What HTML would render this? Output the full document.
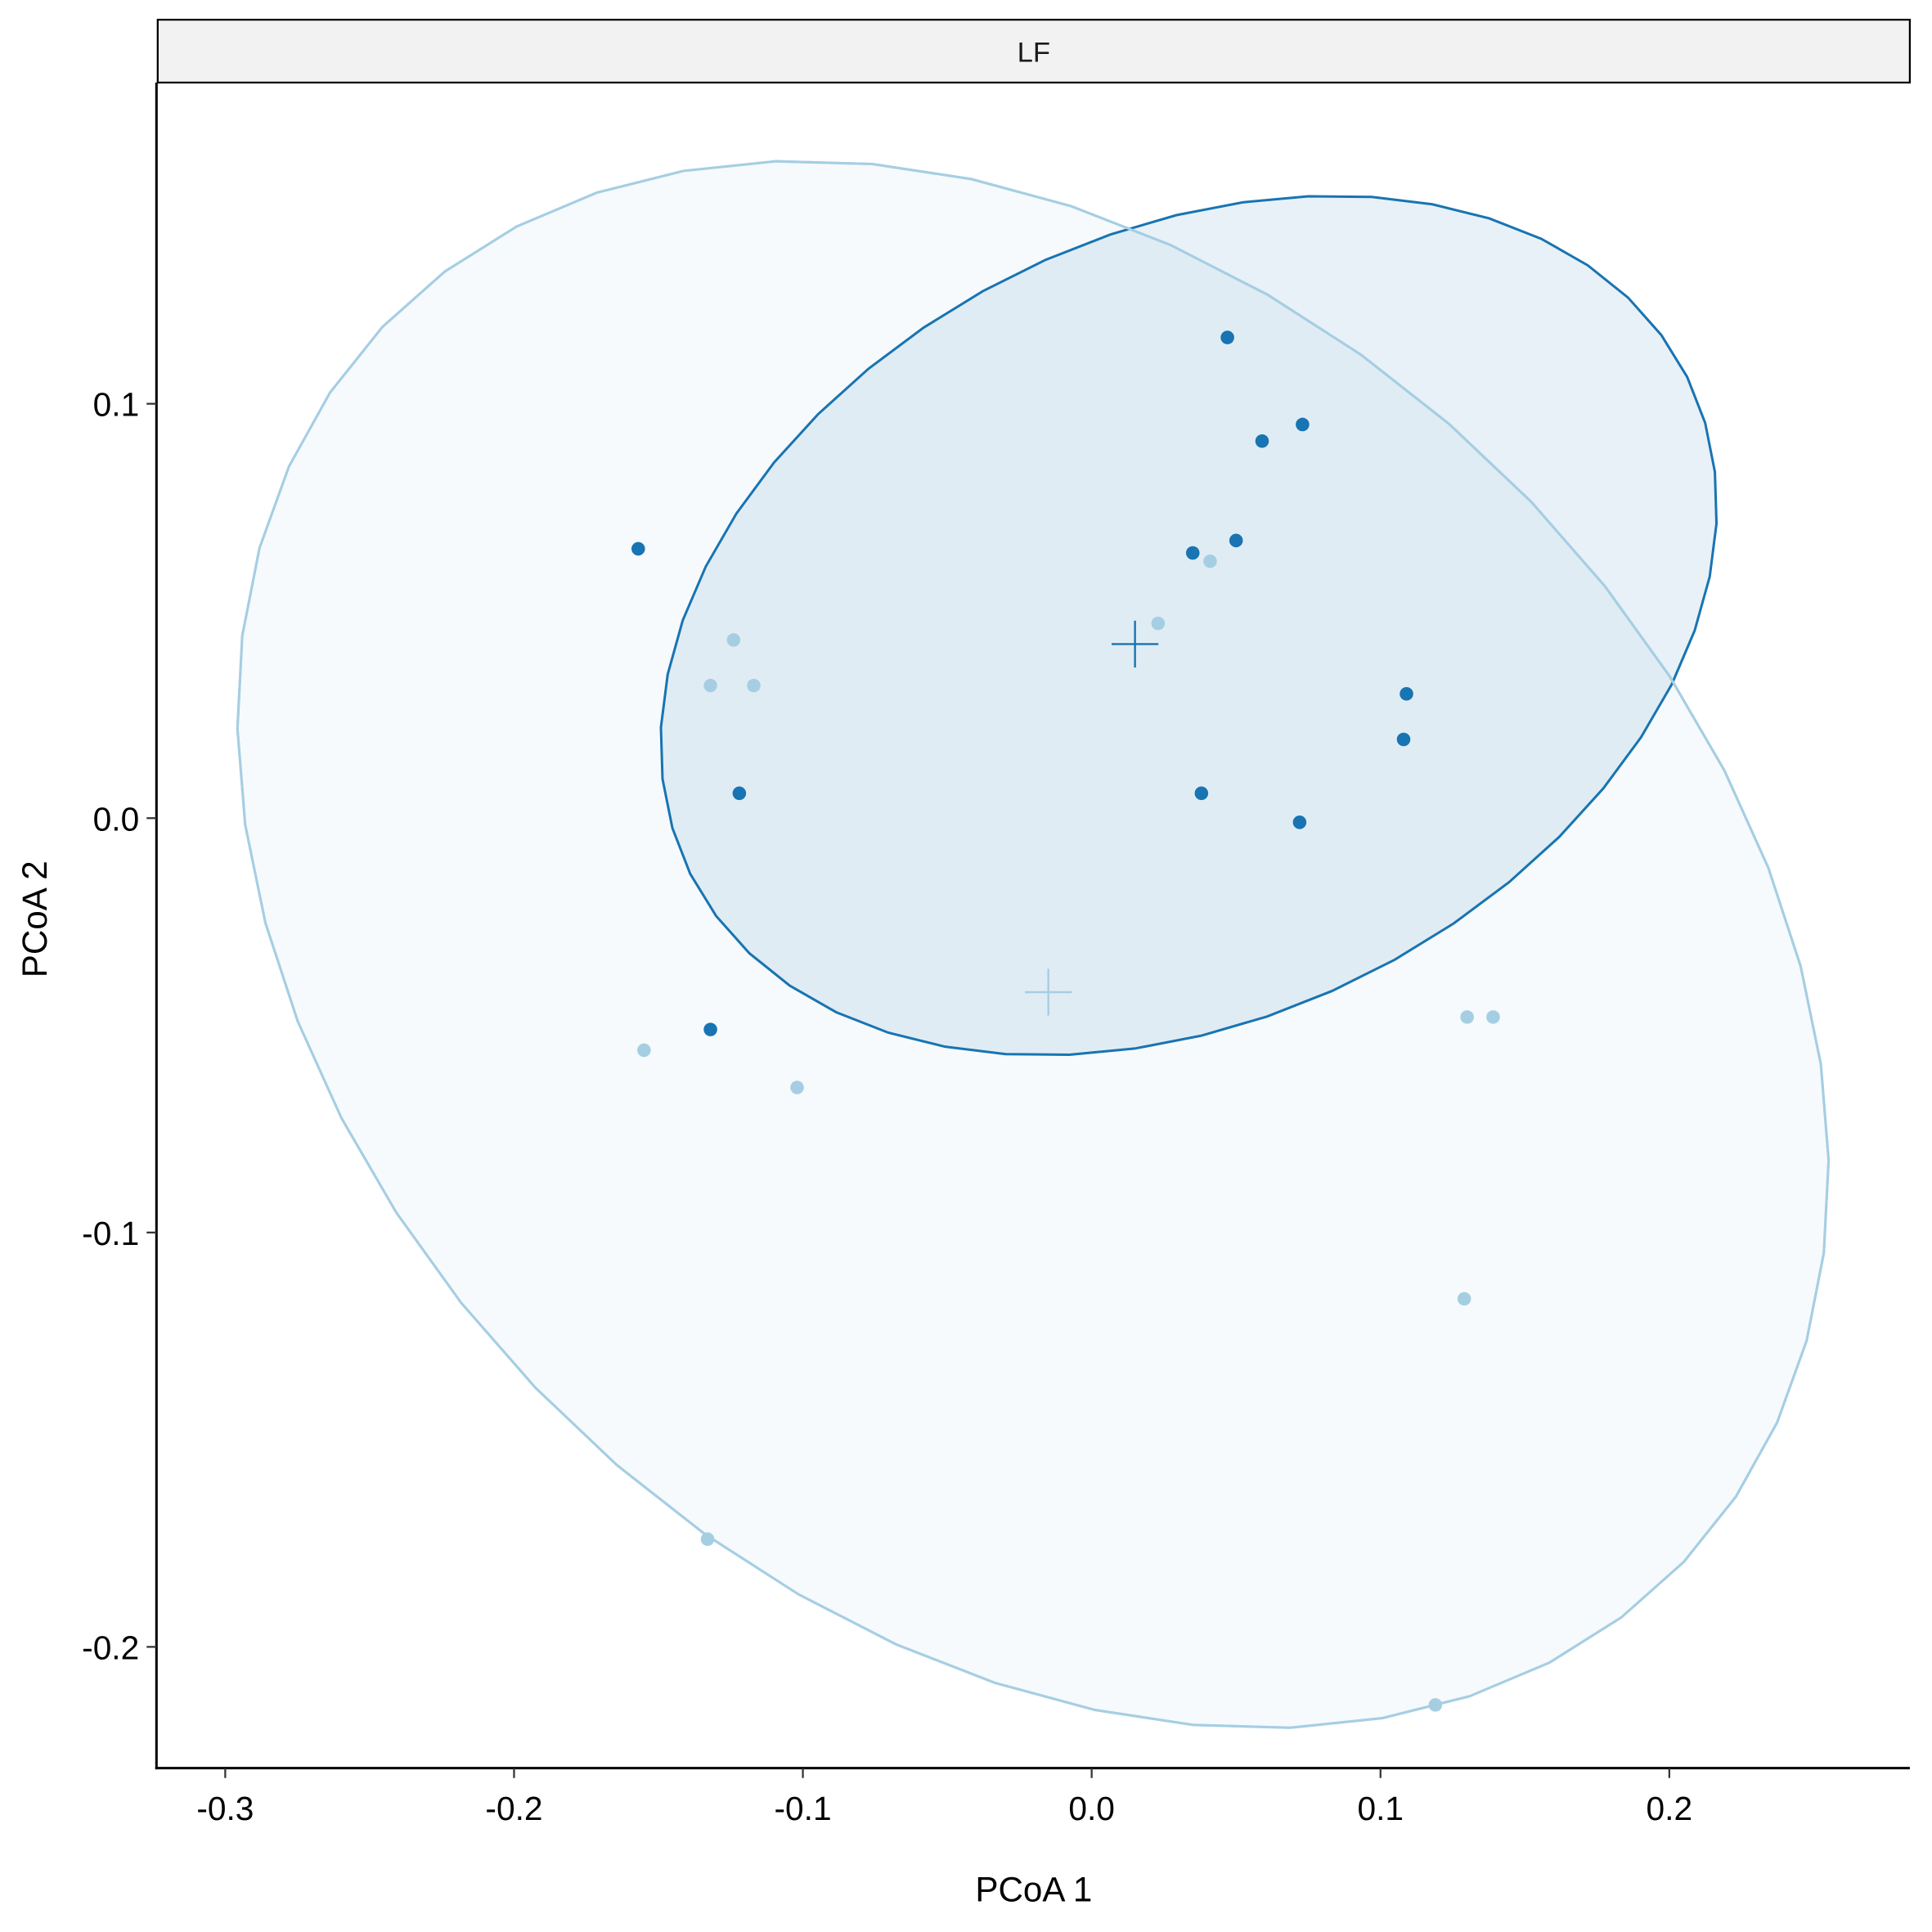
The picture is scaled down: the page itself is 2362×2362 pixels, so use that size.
<!DOCTYPE html>
<html><head><meta charset="utf-8"><style>
html,body{margin:0;padding:0;background:#fff;}
svg{display:block;font-family:"Liberation Sans",Arial,sans-serif;}
</style></head><body>
<svg id="chart" width="2362" height="2362" viewBox="0 0 1568 1568" xmlns="http://www.w3.org/2000/svg">
<rect x="0" y="0" width="1568" height="1568" fill="#fff"/>
<g>
<rect x="128" y="16" width="1422" height="51" fill="#f2f2f2" stroke="#000" stroke-width="1.5"/>
<text x="839" y="50" font-size="23" text-anchor="middle" fill="#1a1a1a">LF</text>
</g>
<g id="plot"></g>
<g id="axes"></g>
<text x="839" y="1543" font-size="28" text-anchor="middle">PCoA 1</text>
<text transform="translate(38,746) rotate(-90)" font-size="28" text-anchor="middle">PCoA 2</text>
</svg>
<script>
const darkX=[0.047,0.073,0.059,-0.157,0.035,0.050,0.109,0.108,-0.122,0.038,0.072,-0.132];
const darkY=[0.116,0.095,0.091,0.065,0.064,0.067,0.030,0.019,0.006,0.006,-0.001,-0.051];
const lightX=[0.041,0.023,-0.124,-0.132,-0.117,-0.155,-0.102,0.130,0.139,0.129,-0.133,0.119];
const lightY=[0.062,0.047,0.043,0.032,0.032,-0.056,-0.065,-0.048,-0.048,-0.116,-0.174,-0.214];
const darkCentroid=[0.015,0.042];
const lightCentroid=[-0.015,-0.042];
const darkEllipse=[0.0336,0.0465,452,318,-26.5];
const lightEllipse=[-0.0203,-0.0305,728,540,43.5];
const xTicks=[-0.3,-0.2,-0.1,0.0,0.1,0.2];
const xTickLabels=["-0.3","-0.2","-0.1","0.0","0.1","0.2"];
const yTicks=[0.1,0.0,-0.1,-0.2];
const yTickLabels=["0.1","0.0","-0.1","-0.2"];

const X0=886, XS=2344, Y0=664, YS=3363;
function xs(v){return X0+v*XS;}
function ys(v){return Y0-v*YS;}
const NS="http://www.w3.org/2000/svg";
const plot=document.getElementById('plot');
const axes=document.getElementById('axes');
function mk(tag,attrs,parent){const e=document.createElementNS(NS,tag);for(const k in attrs)e.setAttribute(k,attrs[k]);parent.appendChild(e);return e;}

function ellipsePts(p){
  const cx=xs(p[0]),cy=ys(p[1]),a=p[2],b=p[3],t=p[4]*Math.PI/180;
  const pts=[];
  for(let i=0;i<=50;i++){const u=2*Math.PI*i/50;const ex=a*Math.cos(u),ey=b*Math.sin(u);
    pts.push((cx+ex*Math.cos(t)-ey*Math.sin(t)).toFixed(1)+','+(cy+ex*Math.sin(t)+ey*Math.cos(t)).toFixed(1));}
  return pts.join(' ');
}
let e1=mk('polygon',{points:ellipsePts(lightEllipse),fill:'#a6cee3','fill-opacity':'0.1',stroke:'#a6cee3','stroke-width':'2'},plot);


let e2=mk('polygon',{points:ellipsePts(darkEllipse),fill:'#1f78b4','fill-opacity':'0.1',stroke:'#1874b2','stroke-width':'2'},plot);


let e3=mk('polygon',{points:ellipsePts(lightEllipse),fill:'none',stroke:'#a6cee3','stroke-width':'2'},plot);



function cross(c,col,name){
  const g=mk('g',{},plot);
  
  
  const x=xs(c[0]),y=ys(c[1]);
  mk('line',{x1:x-19,y1:y,x2:x+19,y2:y,stroke:col,'stroke-width':'1.6'},g);
  mk('line',{x1:x,y1:y-19,x2:x,y2:y+19,stroke:col,'stroke-width':'1.6'},g);
}
cross(darkCentroid,'#1874b2','centroid-dark');
cross(lightCentroid,'#a6cee3','centroid-light');

for(let i=0;i<lightX.length;i++){
  const c=mk('circle',{cx:xs(lightX[i]),cy:ys(lightY[i]),r:5.5,fill:'#a6cee3'},plot);
  
  
}
for(let i=0;i<darkX.length;i++){
  const c=mk('circle',{cx:xs(darkX[i]),cy:ys(darkY[i]),r:5.5,fill:'#1874b2'},plot);
  
  
}

mk('line',{x1:127,y1:67,x2:127,y2:1436,stroke:'#000','stroke-width':'2'},axes);
mk('line',{x1:126,y1:1435,x2:1550,y2:1435,stroke:'#000','stroke-width':'2'},axes);
for(let i=0;i<xTicks.length;i++){
  const x=xs(xTicks[i]);
  mk('line',{x1:x,y1:1435,x2:x,y2:1443,stroke:'#333','stroke-width':'1.5'},axes);
  const t=mk('text',{x:x,y:1477,'font-size':'27','text-anchor':'middle',fill:'#000'},axes);
  t.textContent=xTickLabels[i];
  
  
}
for(let i=0;i<yTicks.length;i++){
  const y=ys(yTicks[i]);
  mk('line',{x1:119,y1:y,x2:127,y2:y,stroke:'#333','stroke-width':'1.5'},axes);
  const t=mk('text',{x:113,y:y+10,'font-size':'27','text-anchor':'end',fill:'#000'},axes);
  t.textContent=yTickLabels[i];
  
  
}
</script>
</body></html>
